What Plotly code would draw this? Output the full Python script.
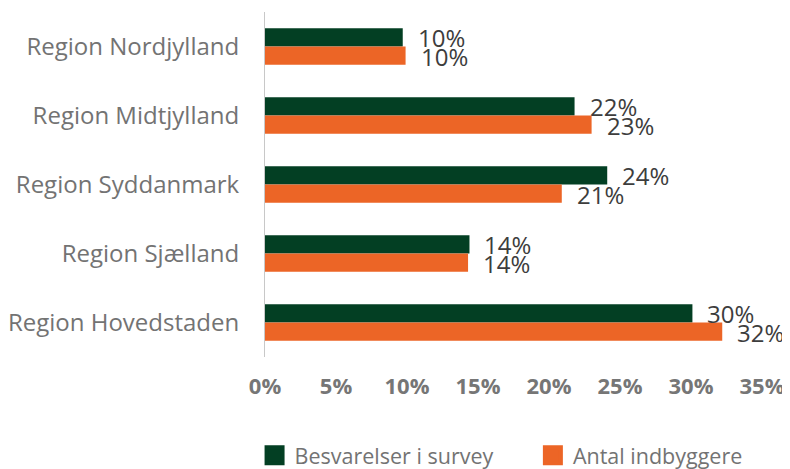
import plotly.graph_objects as go

categories = ["Region Nordjylland", "Region Midtjylland", "Region Syddanmark", "Region Sjælland", "Region Hovedstaden"]
survey = [0.097, 0.218, 0.241, 0.144, 0.301]
population = [0.099, 0.230, 0.209, 0.143, 0.322]
series_names = ["Besvarelser i survey", "Antal indbyggere"]
tick_vals = [0, 0.05, 0.10, 0.15, 0.20, 0.25, 0.30, 0.35]
tick_text = ["0%", "5%", "10%", "15%", "20%", "25%", "30%", "35%"]

GREEN = "#033F23"
ORANGE = "#EC6526"
FONT = "Open Sans"

fig = go.Figure()
fig.add_trace(go.Bar(y=categories, x=survey, orientation="h", name=series_names[0],
                     marker=dict(color=GREEN, line=dict(width=0)), showlegend=False))
fig.add_trace(go.Bar(y=categories, x=population, orientation="h", name=series_names[1],
                     marker=dict(color=ORANGE, line=dict(width=0)), showlegend=False))
# legend entries with square symbols, each in its own legend box
for nm, col, lg in zip(series_names, (GREEN, ORANGE), ("legend", "legend2")):
    fig.add_trace(go.Scatter(x=[None], y=[None], mode="markers", name=nm, legend=lg,
                             marker=dict(symbol="square", size=16, color=col,
                                         line=dict(color=col, width=4))))

# value labels
for i, cat in enumerate(categories):
    for vals, off in ((survey, -0.135), (population, 0.145)):
        fig.add_annotation(x=vals[i], y=i + off, yref="y", xref="x",
                           text=f"{round(vals[i]*100):.0f}%", showarrow=False,
                           xanchor="left", yanchor="middle", xshift=13,
                           font=dict(family=FONT, size=24, color="#3d3d3d"))

W, H = 782, 461
legend_common = dict(orientation="h", xanchor="left", yanchor="middle",
                     yref="container", y=0.03,
                     font=dict(family=FONT, size=21.5, color="#737373"), borderwidth=0,
                     bgcolor="rgba(0,0,0,0)")
fig.update_layout(
    width=W, height=H,
    margin=dict(l=257, r=28, t=4, b=112),
    paper_bgcolor="white", plot_bgcolor="white",
    barmode="group", bargap=0.47, bargroupgap=0,
    font=dict(family=FONT, color="#737373"),
    showlegend=True,
    legend=dict(x=-0.021, **legend_common),
    legend2=dict(x=0.539, **legend_common),
)
fig.update_xaxes(range=[0, 0.35], tickvals=tick_vals, ticktext=tick_text,
                 showgrid=False, zeroline=False, showline=False, automargin=False,
                 tickfont=dict(family=FONT, size=22, color="#767676", weight="bold"),
                 ticks="", ticklabelstandoff=14)
fig.update_yaxes(autorange="reversed", showgrid=False, zeroline=False, automargin=False,
                 showline=True, linecolor="#c8c8c8", linewidth=1,
                 tickfont=dict(family=FONT, size=24, color="#737373"),
                 ticks="", ticklabelstandoff=20)

fig.write_html("out.html")
